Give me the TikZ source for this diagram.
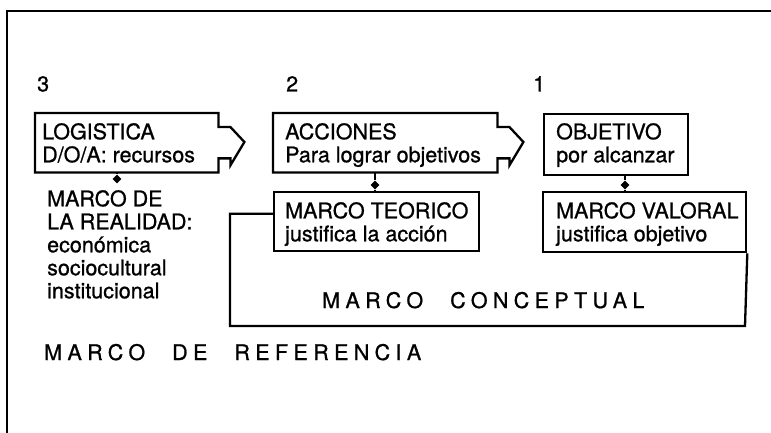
\documentclass[tikz,border=0pt]{standalone}
\usepackage{fontspec}
\setmainfont{TeX Gyre Heros}[FakeBold=0.9]
\usetikzlibrary{shapes.geometric}
\begin{document}
\begin{tikzpicture}[x=1pt,y=-1pt,
  frame/.style={line width=2.8pt},
  boxline/.style={line width=2.3pt, line join=miter},
  area/.style={draw=none, inner sep=0pt, anchor=north west},
  rectbox/.style={draw, line width=2.3pt, inner sep=0pt, anchor=north west},
  txt/.style={font=\fontsize{21.5}{23}\selectfont, align=left, inner sep=0pt, anchor=north west},
  spaced/.style={font=\fontsize{21.5}{23}\selectfont\addfontfeature{LetterSpace=25}, inner sep=0pt, anchor=base west},
  dot/.style={diamond, fill=black, draw=none, inner sep=0pt, minimum size=9pt},
  link/.style={line width=2.3pt}]
\useasboundingbox (0,0) rectangle (771,433);

% outer frame
\coordinate (fbl) at (7,433);
\coordinate (ftl) at (7,11);
\coordinate (ftr) at (771,11);
\draw[frame] (fbl) -- (ftl) -- (ftr);

% step numbers
\node[txt] (n3) at (37,76) {3};
\node[txt] (n2) at (286,76) {2};
\node[txt] (n1) at (533,76) {1};

% upper boxes
\node[area, minimum width=183pt, minimum height=59pt] (log) at (35,113) {};
\node[area, minimum width=224pt, minimum height=59pt] (acc) at (273,113) {};
\node[rectbox, minimum width=144pt, minimum height=61pt] (obj) at (543,113) {};

\draw[boxline] (log.north east) -- ([shift={(0,14)}]log.north east) -- ([shift={(12,14)}]log.north east)
  -- ([shift={(26,29)}]log.north east) -- ([shift={(12,-7)}]log.south east) -- ([shift={(12,-14)}]log.south east)
  -- ([shift={(0,-14)}]log.south east) -- (log.south east) -- (log.south west) -- (log.north west) -- cycle;
\draw[boxline] (acc.north east) -- ([shift={(0,14)}]acc.north east) -- ([shift={(12,14)}]acc.north east)
  -- ([shift={(26,29)}]acc.north east) -- ([shift={(12,-7)}]acc.south east) -- ([shift={(12,-14)}]acc.south east)
  -- ([shift={(0,-14)}]acc.south east) -- (acc.south east) -- (acc.south west) -- (acc.north west) -- cycle;

\node[txt] (logt) at ([shift={(7,10)}]log.north west) {LOGISTICA\\D/O/A: recursos};
\node[txt] (acct) at ([shift={(12,10)}]acc.north west) {ACCIONES\\Para lograr objetivos};
\node[txt] (objt) at ([shift={(13,10)}]obj.north west) {OBJETIVO\\por alcanzar};

% lower boxes
\node[rectbox, minimum width=205pt, minimum height=59pt] (teo) at (273,191) {};
\node[rectbox, minimum width=203pt, minimum height=60pt] (val) at (542,191) {};
\node[txt] (teot) at ([shift={(12,11)}]teo.north west) {MARCO TEORICO\\justifica la acción};
\node[txt] (valt) at ([shift={(14,11)}]val.north west) {MARCO VALORAL\\justifica objetivo};

\node[txt] (real) at (47,190) {MARCO DE\\LA REALIDAD:\\económica\\sociocultural\\institucional};

% connectors with diamonds
\node[dot] (d1) at (117,179) {};
\node[dot] (d2) at (375,185) {};
\node[dot] (d3) at (625,185) {};
\draw[link] (log.south -| d1) -- (d1);
\draw[link] (acc.south -| d2) -- (d2) -- (teo.north -| d2);
\draw[link] (obj.south -| d3) -- (d3) -- (val.north -| d3);

% marco conceptual bracket
\coordinate (bl) at (230,326);
\coordinate (br) at (745,326);
\coordinate (tj) at ([yshift=8pt]teo.west);
\draw[boxline] (tj) -- (tj -| bl) -- (bl) -- (br) -- (val.south east);

\node[spaced] (conc) at (322,308) {MARCO\hspace{27pt}CONCEPTUAL};
\node[spaced] (ref) at (44,360) {MARCO\hspace{27pt}DE\hspace{27pt}REFERENCIA};
\end{tikzpicture}
\end{document}
